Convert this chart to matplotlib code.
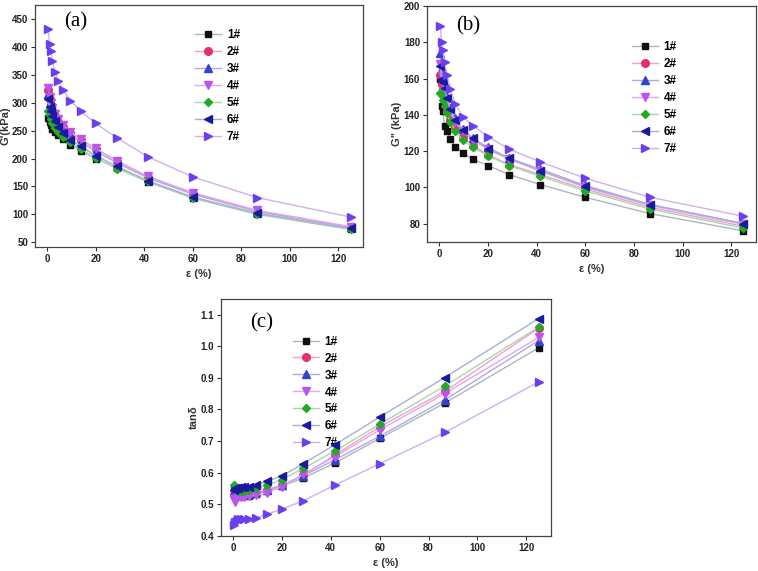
import matplotlib.pyplot as plt

plt.rcParams['font.family'] = ['Liberation Sans', 'DejaVu Sans']

strain = [0.5, 1.0, 1.5, 2.2, 3.2, 4.6, 6.7, 9.6, 13.9, 20.0, 28.8, 41.6, 60.0, 86.6, 125.0]
labels = ['1#', '2#', '3#', '4#', '5#', '6#', '7#']

# storage modulus G' (kPa)
g1 = {
    '1#': [273, 266, 260, 253, 248, 242, 235, 225, 214, 200, 183, 158, 129, 100, 73],
    '2#': [322, 306, 296, 286, 276, 266, 256, 246, 234, 217, 195, 167, 137, 106, 77],
    '3#': [316, 300, 291, 281, 271, 262, 252, 241, 230, 213, 192, 165, 136, 105, 77],
    '4#': [326, 310, 300, 290, 280, 270, 260, 248, 235, 218, 196, 168, 139, 107, 78],
    '5#': [286, 278, 271, 263, 255, 247, 239, 229, 217, 201, 182, 159, 130, 101, 74],
    '6#': [307, 292, 285, 277, 267, 257, 246, 234, 222, 205, 186, 160, 131, 102, 75],
    '7#': [432, 405, 392, 375, 356, 339, 322, 304, 285, 263, 237, 203, 167, 130, 95],
}

# loss modulus G'' (kPa)
g2 = {
    '1#': [160, 145, 142, 134, 131, 126.5, 122.5, 119, 115.5, 112, 107, 101.5, 94.5, 85.5, 76],
    '2#': [162, 157, 154, 148, 142, 137, 133, 128, 123, 118, 112.5, 107, 99, 89, 78.5],
    '3#': [174, 166, 161, 156, 150, 144, 138, 132, 127, 122, 116, 110, 101, 90.5, 80],
    '4#': [168, 162, 158, 153, 148, 142, 136, 131, 126, 121, 115.5, 109, 100, 90, 79.5],
    '5#': [152, 151, 148, 145, 141, 136, 131, 126, 122, 117.5, 112, 106, 98, 88, 77.5],
    '6#': [167, 160, 158, 155, 149, 143, 137, 131.5, 127, 121, 116, 109, 100.5, 90.5, 80],
    '7#': [189, 180, 176, 169, 162, 154, 146, 139, 134, 128, 121, 114, 105, 94.5, 84],
}

# loss factor tan delta
tand = {
    '1#': [0.545, 0.540, 0.535, 0.530, 0.527, 0.525, 0.527, 0.533, 0.542, 0.557, 0.583, 0.630, 0.708, 0.820, 0.995],
    '2#': [0.530, 0.528, 0.527, 0.527, 0.527, 0.528, 0.530, 0.535, 0.545, 0.560, 0.592, 0.655, 0.745, 0.857, 1.057],
    '3#': [0.540, 0.535, 0.533, 0.532, 0.531, 0.531, 0.532, 0.537, 0.545, 0.560, 0.590, 0.640, 0.715, 0.830, 1.018],
    '4#': [0.515, 0.507, 0.518, 0.522, 0.523, 0.524, 0.525, 0.528, 0.536, 0.555, 0.595, 0.650, 0.735, 0.850, 1.028],
    '5#': [0.560, 0.548, 0.545, 0.543, 0.542, 0.543, 0.545, 0.550, 0.560, 0.578, 0.613, 0.668, 0.753, 0.874, 1.061],
    '6#': [0.545, 0.550, 0.550, 0.552, 0.553, 0.553, 0.555, 0.562, 0.572, 0.590, 0.628, 0.688, 0.776, 0.901, 1.088],
    '7#': [0.435, 0.445, 0.448, 0.452, 0.453, 0.454, 0.454, 0.457, 0.468, 0.484, 0.511, 0.560, 0.628, 0.727, 0.887],
}

markers = ['s', 'o', '^', 'v', 'D', '<', '>']
mcolors = ['#111111', '#e0306e', '#3344cc', '#bb55ee', '#22aa22', '#1a1aa0', '#6a40ee']
lcolors = ['#a8b8c0', '#f0a0d0', '#b0a8e8', '#e0a8f0', '#a8d8a8', '#a8b0d0', '#d0b0f0']
msizes = [5, 5.5, 5.5, 5.5, 4.5, 5.5, 5.5]


def panel(ax, data, ylim, yticks, ylabel, tag, tagpos, legpos):
    for i, lab in enumerate(labels):
        ax.plot(strain, data[lab], color=lcolors[i], lw=1.0, marker=markers[i],
                ms=msizes[i], mfc=mcolors[i], mec=mcolors[i], label=lab, zorder=3 + i)
    ax.set_xlim(-5, 130)
    ax.set_ylim(*ylim)
    ax.set_xticks([0, 20, 40, 60, 80, 100, 120])
    ax.set_yticks(yticks)
    ax.tick_params(labelsize=7, length=3, width=0.8, pad=2, colors='#333333', labelcolor='#222222')
    for lbl in ax.get_xticklabels() + ax.get_yticklabels():
        lbl.set_fontweight('bold')
    for s in ax.spines.values():
        s.set_color('#444444')
        s.set_linewidth(0.9)
    ax.set_xlabel('ε (%)', fontsize=8, fontweight='bold', color='#333333', labelpad=4)
    ax.set_ylabel(ylabel, fontsize=8, fontweight='bold', color='#333333', labelpad=1)
    ax.text(tagpos[0], tagpos[1], tag, transform=ax.transAxes, fontsize=15,
            family=['Liberation Serif', 'DejaVu Serif'], va='center', ha='left')
    ax.legend(loc='upper left', bbox_to_anchor=legpos, frameon=False,
              handlelength=2.2, handletextpad=0.5, labelspacing=0.42, borderpad=0,
              prop={'weight': 'bold', 'size': 8.5})


fig = plt.figure(figsize=(7.58, 5.71), dpi=100)
ax1 = fig.add_axes([0.0462, 0.568, 0.4323, 0.423])
ax2 = fig.add_axes([0.5633, 0.5767, 0.4336, 0.4128])
ax3 = fig.add_axes([0.2912, 0.0618, 0.4354, 0.4146])

panel(ax1, g1, (42, 475), [50, 100, 150, 200, 250, 300, 350, 400, 450], "G'(kPa)",
      '(a)', (0.09, 0.93), (0.47, 0.925))
panel(ax2, g2, (70, 200), [80, 100, 120, 140, 160, 180, 200], 'G" (kPa)',
      '(b)', (0.09, 0.915), (0.605, 0.875))
panel(ax3, tand, (0.4, 1.15), [0.4, 0.5, 0.6, 0.7, 0.8, 0.9, 1.0, 1.1], 'tanδ',
      '(c)', (0.09, 0.9), (0.2, 0.87))

fig.savefig('out.png', dpi=100)
